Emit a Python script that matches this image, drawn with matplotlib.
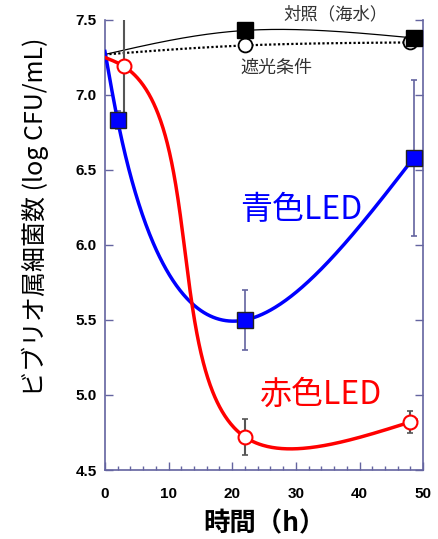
import numpy as np
import matplotlib
matplotlib.use("Agg")
import matplotlib.pyplot as plt
from matplotlib.ticker import MultipleLocator, FormatStrFormatter

plt.rcParams['font.family'] = ['Noto Sans CJK JP', 'DejaVu Sans']

# Data
blue_x = [0, 2, 22, 48.5]
blue_y = [7.29, 6.83, 5.50, 6.58]
blue_err = [0, 0.06, 0.20, 0.52]

red_x = [0, 3, 22, 48]
red_y = [7.25, 7.19, 4.72, 4.82]
red_err = [0, 0.37, 0.12, 0.07]

ctrl_x = [0, 22, 48.5]
ctrl_y = [7.27, 7.43, 7.38]

dark_x = [0, 22, 48]
dark_y = [7.27, 7.33, 7.35]

XLIM = (0, 50)
YLIM = (4.5, 7.5)


def natural_spline_1d(t, y, ts):
    t = np.asarray(t, float); y = np.asarray(y, float)
    n = len(t)
    h = np.diff(t)
    A = np.zeros((n, n)); r = np.zeros(n)
    A[0, 0] = 1; A[-1, -1] = 1
    for i in range(1, n - 1):
        A[i, i - 1] = h[i - 1]
        A[i, i] = 2 * (h[i - 1] + h[i])
        A[i, i + 1] = h[i]
        r[i] = 6 * ((y[i + 1] - y[i]) / h[i] - (y[i] - y[i - 1]) / h[i - 1])
    M = np.linalg.solve(A, r)
    out = np.empty(len(ts))
    for k, tt in enumerate(ts):
        i = min(max(np.searchsorted(t, tt) - 1, 0), n - 2)
        a = t[i + 1] - tt; b = tt - t[i]
        out[k] = (M[i] * a ** 3 + M[i + 1] * b ** 3) / (6 * h[i]) \
            + (y[i] / h[i] - M[i] * h[i] / 6) * a + (y[i + 1] / h[i] - M[i + 1] * h[i] / 6) * b
    return out


def smooth_curve(x, y, alpha=1.0, aspect=448 / 318, n=400, extend=0.0):
    """Parametric spline in axes-normalised coordinates."""
    u = (np.asarray(x) - XLIM[0]) / (XLIM[1] - XLIM[0])
    v = (np.asarray(y) - YLIM[0]) / (YLIM[1] - YLIM[0]) * aspect
    d = np.hypot(np.diff(u), np.diff(v)) ** alpha
    t = np.concatenate([[0], np.cumsum(d)])
    ts = np.linspace(0, t[-1] + d[-1] * extend, n)
    us = natural_spline_1d(t, u, ts)
    vs = natural_spline_1d(t, v, ts)
    return (XLIM[0] + us * (XLIM[1] - XLIM[0]),
            YLIM[0] + vs / aspect * (YLIM[1] - YLIM[0]))


fig = plt.figure(figsize=(4.39, 5.39), dpi=100)
ax = fig.add_axes([0.239, 0.128, 0.725, 0.835])

spine_c = '#6464a0'
err_c = '#555555'

# control curves
cx, cy = smooth_curve(ctrl_x, ctrl_y, alpha=0.5)
ax.plot(cx, cy, color='black', lw=0.9, zorder=3)
cx, cy = smooth_curve(dark_x, dark_y, alpha=0.5)
ax.plot(cx, cy, color='black', lw=1.6, ls=(0, (1, 1)), zorder=3)

# blue
cx, cy = smooth_curve(blue_x, blue_y, alpha=1.6)
ax.plot(cx, cy, color='#0000ff', lw=2.5, zorder=4)
ax.errorbar(blue_x[1:], blue_y[1:], yerr=blue_err[1:], fmt='none', ecolor=spine_c,
            elinewidth=1.2, capsize=2.5, capthick=1.2, zorder=3)
ax.plot(blue_x[1:], blue_y[1:], 's', ms=11.5, mfc='#0000ff', mec='#222222', mew=1, zorder=6)

# red
cx, cy = smooth_curve(red_x, red_y, alpha=0.9, extend=0.03)
ax.plot(cx, cy, color='#ff0000', lw=2.5, zorder=4)
ax.errorbar(red_x[1:], red_y[1:], yerr=red_err[1:], fmt='none', ecolor=err_c,
            elinewidth=1.5, capsize=2.5, capthick=1.2, zorder=3)
ax.plot(red_x[1:], red_y[1:], 'o', ms=10, mfc='white', mec='#ff0000', mew=1.5, zorder=6)

# control markers
ax.plot(dark_x[1:], dark_y[1:], 'o', ms=10, mfc='white', mec='black', mew=1.3, zorder=7)
ax.plot(ctrl_x[1:], ctrl_y[1:], 's', ms=11.5, mfc='black', mec='black', zorder=8)

ax.set_xlim(*XLIM)
ax.set_ylim(*YLIM)
ax.xaxis.set_major_locator(MultipleLocator(10))
ax.xaxis.set_minor_locator(MultipleLocator(2))
ax.yaxis.set_major_locator(MultipleLocator(0.5))
ax.yaxis.set_major_formatter(FormatStrFormatter('%.1f'))
ax.spines['top'].set_visible(False)
for s in ['left', 'right', 'bottom']:
    ax.spines[s].set_color(spine_c)
    ax.spines[s].set_linewidth(1.2)
ax.tick_params(which='both', direction='in', color=spine_c, right=True, top=False)
ax.tick_params(which='major', length=6, width=1)
ax.tick_params(which='minor', length=3, width=1)
ax.tick_params(axis='x', pad=12)
ax.tick_params(axis='y', pad=6)
for lab in ax.get_xticklabels() + ax.get_yticklabels():
    lab.set_fontfamily('Liberation Sans')
    lab.set_fontweight('bold')
    lab.set_fontsize(11)

ax.set_xlabel('時間（h）', fontsize=19, fontweight='bold')
ax.xaxis.set_label_coords(0.5, -0.09)
ax.set_ylabel('ビブリオ属細菌数 (log CFU/mL)', fontsize=18)
ax.yaxis.set_label_coords(-0.175, 0.562)

ax.text(36.3, 7.535, '対照（海水）', fontsize=12.5, color='#333333', ha='center', va='center', clip_on=False)
ax.text(26.9, 7.18, '遮光条件', fontsize=13, color='#333333', ha='center', va='center')
ax.text(30.8, 6.23, '青色LED', fontsize=23, color='#0000ff', ha='center', va='center')
ax.text(34, 5.0, '赤色LED', fontsize=23, color='#ff0000', ha='center', va='center')

fig.savefig('out.png', dpi=100)
